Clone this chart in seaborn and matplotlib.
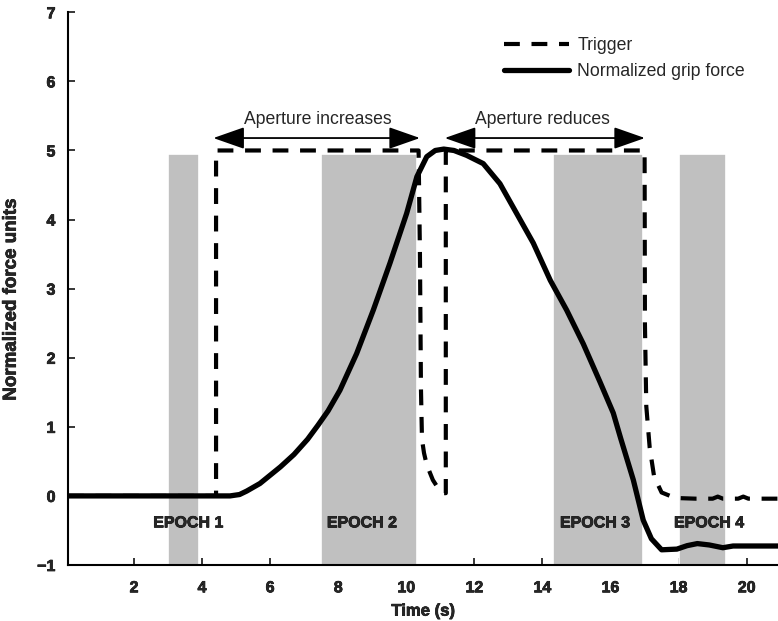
import numpy as np
import pandas as pd
import matplotlib
matplotlib.use("Agg")
import matplotlib.pyplot as plt
import matplotlib.patheffects as pe
import seaborn as sns

# trigger signal (dashed)
trig_t = [0.06, 4.41, 4.41, 10.36, 10.40, 10.43, 10.46, 10.52, 10.60, 10.78, 10.95, 11.08, 11.16, 11.16,
          17.0, 17.01, 17.05, 17.15, 17.28, 17.5, 17.9, 18.5, 19.0, 19.15, 19.3, 19.75, 19.9, 20.05, 20.92]
trig_y = [0, 0, 5, 5, 3.5, 1.55, 0.82, 0.62, 0.45, 0.23, 0.1, 0.04, 0.04, 5,
          5, 2.5, 1.3, 0.7, 0.28, 0.05, -0.03, -0.04, -0.04, -0.01, -0.04, -0.04, -0.01, -0.04, -0.04]

# normalized grip force (solid)
grip_t = [0.06, 4.82, 5.1, 5.31, 5.7, 6.0, 6.3, 6.7, 7.1, 7.4, 7.7, 8.05, 8.54, 9.03, 9.52, 10.01,
          10.31, 10.6, 10.85, 11.1, 11.4, 11.77, 12.26, 12.75, 13.24, 13.73, 14.23, 14.71, 15.2, 15.69,
          16.08, 16.3, 16.67, 16.96, 17.2, 17.5, 17.95, 18.25, 18.55, 18.9, 19.3, 19.6, 20.92]
grip_y = [0, 0, 0.02, 0.07, 0.18, 0.3, 0.42, 0.6, 0.82, 1.02, 1.23, 1.53, 2.06, 2.69, 3.37, 4.09,
          4.62, 4.91, 5.0, 5.02, 5.0, 4.93, 4.81, 4.52, 4.09, 3.66, 3.12, 2.69, 2.2, 1.65,
          1.2, 0.83, 0.23, -0.35, -0.62, -0.78, -0.77, -0.72, -0.69, -0.71, -0.75, -0.725, -0.725]

# grey epoch windows
epoch_names = ["EPOCH 1", "EPOCH 2", "EPOCH 3", "EPOCH 4"]
epoch_start = [3.0, 7.5, 14.3, 18.0]
epoch_end = [3.9, 10.3, 16.95, 19.4]
epoch_label_x = [3.6, 8.7, 15.55, 18.9]

sns.set_style("ticks")
plt.rcParams["font.family"] = ["Liberation Sans", "DejaVu Sans"]

heavy = [pe.withStroke(linewidth=0.5, foreground="black")]

fig = plt.figure(figsize=(7.78, 6.21), dpi=100)
ax = fig.add_axes([68 / 778, 56 / 621, 1 - 68 / 778, (565 - 12.3) / 621])

for s, e in zip(epoch_start, epoch_end):
    ax.bar(s, 5.95, bottom=-1, width=e - s, align="edge", color="#c0c0c0",
           edgecolor="white", linewidth=1.2, zorder=1)

trig_df = pd.DataFrame({"t": trig_t, "y": trig_y})
grip_df = pd.DataFrame({"t": grip_t, "y": grip_y})

sns.lineplot(data=trig_df, x="t", y="y", ax=ax, sort=False, estimator=None, color="black",
             linewidth=3, label="Trigger", zorder=3)
ax.lines[-1].set_dashes((3.8, 2.8))
sns.lineplot(data=grip_df, x="t", y="y", ax=ax, sort=False, estimator=None, color="black",
             linewidth=3.8, label="Normalized grip force", zorder=4)

for name, x in zip(epoch_names, epoch_label_x):
    ax.text(x, -0.39, name, ha="center", va="center", fontsize=11.5, fontweight="bold",
            zorder=5, path_effects=heavy)

# aperture arrows
arrow_kw = dict(arrowstyle="<|-|>,head_length=0.97,head_width=0.34", color="black", lw=1.3,
                mutation_scale=20, shrinkA=0, shrinkB=0)
ax.annotate("", xy=(4.33, 5.18), xytext=(10.4, 5.18), arrowprops=arrow_kw)
ax.annotate("", xy=(11.13, 5.18), xytext=(17.01, 5.18), arrowprops=arrow_kw)
ax.text(7.4, 5.45, "Aperture increases", ha="center", va="center", fontsize=12.7)
ax.text(14.0, 5.45, "Aperture reduces", ha="center", va="center", fontsize=12.7)

ax.set_xlim(0.06, 20.92)
ax.set_ylim(-1, 7)
ax.set_xticks([2, 4, 6, 8, 10, 12, 14, 16, 18, 20])
ax.set_yticks(range(-1, 8))
ax.set_yticklabels(["\u22121"] + [str(i) for i in range(0, 8)])
ax.tick_params(direction="in", length=5, width=1.3, labelsize=11.5)
ax.tick_params(axis="x", pad=11)
ax.tick_params(axis="y", pad=9)
for lab in ax.get_xticklabels() + ax.get_yticklabels():
    lab.set_fontweight("bold")
    lab.set_path_effects(heavy)
ax.set_xlabel("Time (s)", fontsize=12, fontweight="bold", labelpad=6, path_effects=heavy)
ax.set_ylabel("Normalized force units", fontsize=13.5, fontweight="bold", path_effects=heavy)
ax.yaxis.set_label_coords(-0.068, 0.48)

sns.despine(ax=ax)
for sp in ["left", "bottom"]:
    ax.spines[sp].set_linewidth(1.5)
    ax.spines[sp].set_color("black")

ax.legend(loc="upper left", bbox_to_anchor=(497 / 778, 1 - 30 / 621), bbox_transform=fig.transFigure,
          frameon=False, fontsize=12.7, handlelength=3.7, handletextpad=0.45, labelspacing=0.5,
          borderaxespad=0)

fig.savefig("out.png", dpi=100)
